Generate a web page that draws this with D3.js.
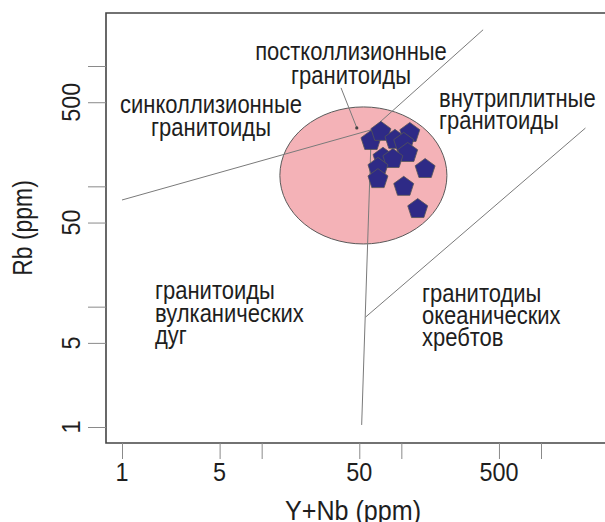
<!DOCTYPE html>
<html>
<head>
<meta charset="utf-8">
<script src="https://cdn.jsdelivr.net/npm/d3@7"></script>
<style>
body { margin: 0; background: #fff; }
svg { display: block; font-family: "Liberation Sans", Arial, sans-serif; }
.frame { fill: none; stroke: #444; stroke-width: 1.6; }
.tick line { stroke: #8a8a8a; }
.domain { display: none; }
.boundary { fill: none; stroke: #7a7a7a; stroke-width: 1; }
.field { fill: #f4b2b7; stroke: #5a5a5a; stroke-width: 1; }
.sample { fill: #2e2a86; stroke: #555; stroke-width: 0.8; }
text { fill: #1e1e1e; }
</style>
</head>
<body>
<svg width="605" height="522"></svg>
<script>
// axis ticks (both axes are log, same decades)
const xTicks = [1, 5, 10, 50, 100, 500, 1000]
const yTicks = [1, 5, 10, 50, 100, 500, 1000]
const tickLabels = ['1', '5', '', '50', '', '500', '']

// samples: Y+Nb and Rb, ppm
const sampleYNb = [60.6, 71.4, 90, 115, 104, 111, 73.9, 87, 68, 68, 148, 104, 131]
const sampleRb  = [243, 289, 248, 283, 234, 193, 176, 172, 145, 117, 142, 101, 66]

// field boundaries, [Y+Nb, Rb]
const synColVag = [[1, 77], [61, 295]]
const synColWpg = [[61, 295], [385, 2000]]
const vagWpg    = [[52, 1.04], [61, 295]]
const orgWpg    = [[55.5, 8.2], [2080, 305]]
const postColPointer = [[37, 658], [48, 306]]

// post-collision field: Y+Nb min/max, Rb min/max
const postColX = [13.5, 212]
const postColRb = [33.2, 457]

const regionNames = [
    ['синколлизионные', 'гранитоиды']
  , ['постколлизионные', 'гранитоиды']
  , ['внутриплитные', 'гранитоиды']
  , ['гранитоиды', 'вулканических', 'дуг']
  , ['гранитодиы', 'океанических', 'хребтов']
]

const frameLeft = 106, frameTop = 13, frameBottom = 443, frameRight = 608
const x = d3.scaleLog().domain([1, 1000]).range([122, 541])
const y = d3.scaleLog().domain([1, 1000]).range([427, 66])

const svg = d3.select('svg')

const addText = (g, str, px, py, opts = {}) => {
    const { size = 25, sx = 0.88, anchor = 'start', rotate = 0 } = opts
    return g.append('text')
        .attr('transform', `translate(${px},${py}) rotate(${rotate}) scale(${sx},1)`)
        .attr('text-anchor', anchor)
        .style('font-size', size + 'px')
        .text(str)
}

// post-collision ellipse, drawn in log space
const ex0 = x(postColX[0]), ex1 = x(postColX[1])
const ey0 = y(postColRb[1]), ey1 = y(postColRb[0])
svg.append('ellipse')
    .attr('class', 'field')
    .attr('cx', (ex0 + ex1) / 2)
    .attr('cy', (ey0 + ey1) / 2)
    .attr('rx', (ex1 - ex0) / 2)
    .attr('ry', (ey1 - ey0) / 2)

const line = d3.line().x(d => x(d[0])).y(d => y(d[1]))
svg.selectAll('path.boundary')
    .data([synColVag, synColWpg, vagWpg, orgWpg])
    .join('path')
    .attr('class', 'boundary')
    .attr('d', line)

svg.append('path')
    .attr('class', 'boundary')
    .attr('stroke', '#555')
    .attr('d', line(postColPointer))
svg.append('circle')
    .attr('cx', x(postColPointer[1][0]))
    .attr('cy', y(postColPointer[1][1]))
    .attr('r', 1.6)
    .attr('fill', '#444')

// pentagons
const R = 10.5
const pentagon = d3.range(5).map(i => {
    const a = -Math.PI / 2 + i * 2 * Math.PI / 5
    return [R * Math.cos(a), R * Math.sin(a) + 1]
})
svg.selectAll('path.sample')
    .data(d3.zip(sampleYNb, sampleRb))
    .join('path')
    .attr('class', 'sample')
    .attr('d', 'M' + pentagon.join('L') + 'Z')
    .attr('transform', d => `translate(${x(d[0])},${y(d[1])})`)

// region labels
const labelLayout = [
    { x: 211, y: 113, dy: 23, anchor: 'middle' }
  , { x: 351, y: 60, dy: 24, anchor: 'middle' }
  , { x: 439, y: 107, dy: 22, anchor: 'start' }
  , { x: 155, y: 299, dy: 22.5, anchor: 'start' }
  , { x: 422, y: 301.5, dy: 22.3, anchor: 'start' }
]
const labels = svg.append('g')
regionNames.forEach((lines, i) => {
    const p = labelLayout[i]
    lines.forEach((s, j) => addText(labels, s, p.x, p.y + j * p.dy, { anchor: p.anchor }))
})

// frame
svg.append('path')
    .attr('class', 'frame')
    .attr('d', `M${frameRight},${frameTop}H${frameLeft}V${frameBottom}H${frameRight}`)

// axes
svg.append('g')
    .attr('transform', `translate(0,${frameBottom})`)
    .call(d3.axisBottom(x).tickValues(xTicks).tickSize(16).tickFormat(''))
svg.append('g')
    .attr('transform', `translate(${frameLeft},0)`)
    .call(d3.axisLeft(y).tickValues(yTicks).tickSize(18).tickFormat(''))

const tickText = svg.append('g')
xTicks.forEach((v, i) => {
    if (tickLabels[i]) addText(tickText, tickLabels[i], x(v), 481, { size: 26, sx: 0.9, anchor: 'middle' })
})
yTicks.forEach((v, i) => {
    if (tickLabels[i]) addText(tickText, tickLabels[i], 80, y(v), { size: 26, sx: 0.9, anchor: 'middle', rotate: -90 })
})

addText(svg, 'Y+Nb (ppm)', 353, 520, { size: 27, sx: 0.93, anchor: 'middle' })
addText(svg, 'Rb (ppm)', 32, 228, { size: 27, sx: 0.85, anchor: 'middle', rotate: -90 })
</script>
</body>
</html>
